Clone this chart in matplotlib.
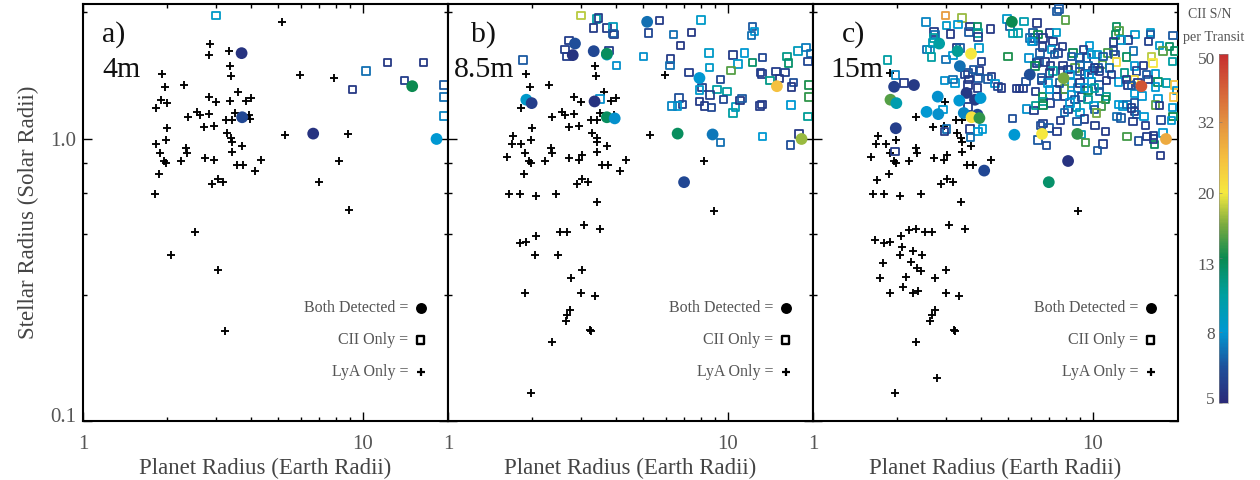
"""Detectability of CII and LyA per transit for 4m, 8.5m and 15m apertures."""

import matplotlib

matplotlib.use("Agg")
import matplotlib.pyplot as plt
import numpy as np
from matplotlib.cm import ScalarMappable
from matplotlib.colors import LinearSegmentedColormap, LogNorm
from matplotlib.ticker import FixedLocator, NullFormatter
from matplotlib.transforms import Affine2D

plt.rcParams["font.family"] = ["Liberation Serif", "DejaVu Serif"]

# all points are (log10 planet radius, log10 stellar radius[, CII S/N])
a_lya = [
    (.713, .414), (.455, .337), (.450, .296), (.521, .310), (.526, .257), (.530, .222), (.777, .226),
    (.899, .215), (.281, .228), (.293, .184), (.362, .190), (.555, .165), (.450, .149), (.474, .129),
    (.525, .134), (.581, .134), (.602, .144), (.279, .136), (.299, .125), (.261, .109), (.374, .078),
    (.408, .095), (.419, .084), (.451, .087), (.543, .090), (.513, .065), (.533, .065), (.593, .085),
    (.598, .071), (.299, .037), (.433, .043), (.470, .046), (.515, .020), (.530, .004), (.533, -.011),
    (.723, .014), (.948, .015), (.262, -.019), (.296, -.004), (.567, -.025), (.369, -.032), (.373, -.052),
    (.277, -.050), (.532, -.046), (.435, -.067), (.469, -.074), (.637, -.074), (.289, -.079), (.298, -.087),
    (.349, -.078), (.915, -.079), (.550, -.092), (.571, -.092), (.615, -.113), (.273, -.124), (.845, -.154),
    (.481, -.143), (.501, -.155), (.460, -.161), (.257, -.195), (.951, -.254), (.402, -.329), (.313, -.413),
    (.481, -.466), (.507, -.680),
]
a_cii = [
    (.475, .437, 8.5), (.963, .174, 5.5), (1.011, .240, 7), (1.088, .270, 5.5), (1.150, .207, 5.7),
    (1.218, .270, 5.5), (1.290, .190, 6.5), (1.290, .148, 7), (1.290, .080, 7.5),
]
a_both = [
    (.567, .303, 5.3), (.569, .076, 6), (.823, .018, 5.3), (1.177, .186, 13), (1.264, -.001, 8),
]

b_lya = [
    (.526, .257), (.530, .222), (.776, .226), (.279, .228), (.293, .184), (.362, .190), (.556, .165),
    (.450, .149), (.474, .129), (.581, .134), (.602, .144), (.261, .109), (.373, .078), (.408, .095),
    (.419, .084), (.451, .087), (.543, .090), (.513, .065), (.533, .065), (.593, .085), (.299, .037),
    (.433, .043), (.470, .046), (.515, .020), (.531, .004), (.533, -.011), (.723, .014), (.233, .008),
    (.229, -.018), (.262, -.019), (.296, -.004), (.567, -.025), (.369, -.032), (.373, -.052), (.276, -.050),
    (.532, -.046), (.432, -.067), (.480, -.057), (.469, -.074), (.637, -.074), (.210, -.064), (.289, -.079),
    (.298, -.087), (.348, -.078), (.915, -.079), (.549, -.092), (.571, -.092), (.615, -.113), (.273, -.124),
    (.480, -.143), (.501, -.155), (.460, -.161), (.217, -.196), (.256, -.196), (.314, -.202), (.387, -.196),
    (.531, -.223), (.950, -.256), (.488, -.306), (.545, -.320), (.400, -.329), (.426, -.329), (.315, -.343),
    (.256, -.368), (.279, -.365), (.312, -.411), (.393, -.411), (.479, -.465), (.438, -.494), (.276, -.548),
    (.477, -.545), (.524, -.558), (.436, -.608), (.427, -.624), (.421, -.647), (.507, -.678), (.510, -.682),
    (.371, -.721), (.295, -.902),
]
b_cii = [
    (.475, .437, 18), (.531, .424, 10), (.539, .428, 5.7), (.521, .392, 5.6), (.568, .392, 5.6),
    (.590, .396, 9), (.593, .369, 5.5), (.590, .372, 6.5), (.757, .418, 5.6), (.904, .420, 8.5),
    (.717, .374, 6), (.806, .370, 7), (.871, .376, 5.5), (.832, .330, 5.5), (1.089, .397, 6.5),
    (1.095, .379, 8), (1.085, .366, 7), (.432, .348, 5.7), (.419, .316, 5.7), (.425, .292, 5.7),
    (.269, .279, 6.5), (.575, .313, 5.7), (.602, .260, 7.8), (.699, .292, 7.8), (.796, .283, 5.6),
    (.793, .259, 7), (.933, .303, 8.5), (.935, .252, 8.5), (1.019, .296, 5.6), (1.060, .303, 8),
    (1.037, .264, 8.3), (1.088, .270, 12), (1.011, .241, 15), (1.124, .288, 6), (1.117, .235, 5.7),
    (1.123, .230, 5.7), (.862, .234, 5.7), (.974, .210, 6), (1.173, .238, 5.7), (1.205, .235, 5.8),
    (1.186, .213, 5.5), (1.151, .207, 11), (1.212, .291, 11), (1.218, .268, 12), (1.251, .310, 9),
    (1.280, .323, 7.3), (1.296, .301, 7), (1.287, .273, 6), (1.235, .199, 6.3), (1.229, .183, 5.5),
    (1.290, .190, 13.5), (1.290, .148, 14), (1.287, .079, 10.5), (1.226, .119, 8), (1.115, .115, 5.6),
    (1.123, .122, 5.6), (1.019, .091, 10), (1.027, .112, 9), (1.044, .135, 5.5), (1.051, .142, 6.5),
    (.998, .168, 10), (.962, .174, 10), (.985, .138, 6), (.937, .154, 5.8), (.908, .182, 5.8),
    (.900, .173, 8.3), (.900, .131, 5.6), (.917, .116, 5.6), (.942, .111, 6), (.826, .144, 6.3),
    (.839, .121, 6), (.821, .115, 8), (.801, .115, 7.5), (.543, .141, 7.8), (1.125, .007, 8),
    (.975, -.013, 7), (1.255, .017, 5.5), (1.225, -.022, 6.3),
]
b_both = [
    (.712, .414, 7), (.454, .337, 6.3), (.446, .296, 5.3), (.521, .310, 6), (.568, .298, 9),
    (.568, .301, 12.5), (.280, .138, 8.3), (.299, .126, 5.7), (.524, .132, 5.3), (.568, .076, 12.5),
    (.596, .072, 7.8), (.899, .215, 8), (.821, .018, 12.5), (.946, .015, 7.2), (1.176, .186, 25),
    (1.264, -.001, 17), (.844, -.154, 6),
]

c_lya = [
    (.275, .231), (.471, .129), (.370, .078), (.510, .065), (.533, .065), (.430, .043), (.468, .046),
    (.515, .020), (.529, .004), (.533, -.011), (.233, .008), (.226, -.018), (.260, -.019), (.295, -.004),
    (.565, -.025), (.369, -.032), (.373, -.052), (.275, -.050), (.531, -.046), (.432, -.067), (.480, -.057),
    (.469, -.074), (.635, -.074), (.208, -.064), (.289, -.079), (.296, -.087), (.345, -.078), (.549, -.092),
    (.571, -.092), (.271, -.124), (.230, -.146), (.480, -.143), (.501, -.155), (.457, -.161), (.214, -.196),
    (.254, -.196), (.311, -.202), (.386, -.196), (.529, -.223), (.949, -.256), (.486, -.306), (.543, -.320),
    (.342, -.324), (.368, -.319), (.400, -.329), (.424, -.329), (.314, -.343), (.221, -.358), (.254, -.368),
    (.276, -.365), (.318, -.385), (.358, -.398), (.390, -.411), (.310, -.411), (.250, -.441), (.349, -.437),
    (.373, -.457), (.387, -.470), (.476, -.465), (.240, -.494), (.333, -.489), (.436, -.494), (.323, -.527),
    (.376, -.538), (.358, -.547), (.475, -.545), (.274, -.548), (.521, -.558), (.435, -.608), (.427, -.624),
    (.420, -.647), (.505, -.678), (.508, -.682), (.369, -.721), (.442, -.848), (.293, -.902),
]
c_cii = [
    (.267, .279, 10), (.295, .225, 7.5), (.325, .197, 5.6), (.473, .437, 30), (.532, .427, 17),
    (.404, .413, 7.5), (.477, .401, 8.5), (.433, .378, 5.6), (.436, .369, 7), (.430, .357, 10),
    (.427, .339, 9), (.408, .316, 7), (.418, .316, 9), (.424, .290, 10), (.475, .280, 7),
    (.501, .294, 8), (.519, .404, 8), (.492, .371, 5.5), (.561, .398, 5.5), (.588, .398, 12.5),
    (.558, .378, 6.5), (.590, .375, 10.5), (.590, .361, 5.8), (.635, .389, 5.5), (.594, .322, 8.3),
    (.602, .274, 5.8), (.596, .239, 5.6), (.590, .215, 6.5), (.638, .221, 5.6), (.626, .212, 6.5),
    (.650, .195, 8), (.662, .184, 6), (.471, .207, 7.8), (.507, .198, 8), (.501, .209, 7),
    (.555, .233, 6.3), (.558, .209, 5.6), (.555, .191, 5.5), (.588, .180, 5.6), (.465, .103, 8),
    (.555, .112, 5.6), (.477, .034, 7), (.471, .026, 5.6), (.561, .034, 5.6), (.590, .026, 8),
    (.606, .034, 8), (.564, .005, 7), (.293, -.046, 5.6), (.513, .322, 5.5), (.525, .322, 6.5),
    (.873, .450, 6.5), (.880, .459, 6.5), (.902, .420, 15), (.694, .424, 8.3), (.754, .416, 9.5),
    (.801, .410, 5.5), (.704, .398, 6.5), (.715, .372, 9.5), (.733, .375, 10), (1.085, .398, 12.5),
    (1.094, .381, 15), (1.082, .368, 12.5), (1.151, .369, 8.3), (1.206, .377, 8.3), (1.206, .370, 6.5),
    (1.287, .365, 6.5), (.787, .375, 6.5), (.775, .357, 7), (.793, .357, 6.5), (.787, .345, 7),
    (.805, .369, 13), (.846, .375, 5.6), (.870, .377, 8.5), (.823, .357, 5.6), (.858, .345, 5.6),
    (.820, .324, 5.6), (.892, .327, 5.6), (.852, .316, 8.3), (.876, .304, 5.8), (.864, .298, 6.5),
    (1.127, .349, 5.8), (1.102, .349, 8.3), (1.075, .342, 5.6), (1.199, .345, 5.8), (1.239, .330, 8.3),
    (1.275, .327, 12.5), (1.251, .310, 15), (1.293, .310, 12.5), (.989, .330, 8), (.968, .316, 5.7),
    (1.146, .310, 7), (1.075, .310, 5.8), (1.055, .304, 14.5), (1.079, .298, 6.3), (.698, .292, 13.5),
    (.773, .286, 7.8), (.799, .268, 5.6), (.808, .274, 6.5), (.829, .272, 5.6), (.793, .257, 13),
    (.849, .257, 5.6), (.894, .259, 5.6), (.930, .304, 13), (.924, .292, 6.5), (.954, .286, 7),
    (.977, .286, 5.8), (1.015, .298, 8.3), (.995, .298, 8), (1.120, .290, 12.5), (1.210, .292, 18),
    (1.215, .268, 20), (1.085, .271, 21), (1.285, .274, 10), (1.035, .262, 15), (.936, .251, 15),
    (1.019, .251, 6.5), (1.001, .242, 6.3), (1.061, .251, 7), (1.150, .257, 8), (1.182, .259, 5.6),
    (1.156, .239, 6), (1.114, .233, 11), (1.225, .230, 8), (.858, .239, 10), (.894, .239, 5.7),
    (.971, .230, 5.7), (.954, .262, 6.5), (.983, .257, 7), (.846, .233, 5.6), (.674, .180, 5.5),
    (.727, .177, 5.6), (.739, .177, 5.6), (.751, .177, 5.6), (.761, .203, 6.3), (.819, .206, 5.7),
    (.840, .197, 8), (.795, .168, 5.7), (.820, .150, 13), (.823, .132, 10.5), (.850, .126, 5.7),
    (.870, .150, 6.5), (.900, .150, 5.7), (.924, .197, 8), (.948, .180, 7), (.900, .176, 15),
    (.924, .156, 8), (.960, .147, 5.8), (.983, .138, 10.5), (.995, .203, 8), (1.023, .191, 6.5),
    (.983, .171, 13), (1.025, .168, 6.5), (1.049, .207, 5.5), (1.093, .200, 8), (1.126, .191, 5.6),
    (1.150, .209, 22), (1.162, .197, 5.6), (1.233, .200, 12.5), (1.225, .183, 8), (1.263, .197, 9.5),
    (1.293, .191, 25), (1.299, .171, 8), (1.289, .148, 25), (1.150, .160, 8), (1.176, .152, 8),
    (1.233, .142, 8), (1.225, .119, 15), (1.239, .117, 5.6), (1.285, .111, 8), (1.049, .150, 10.5),
    (1.046, .138, 13), (1.031, .115, 14.5), (1.094, .121, 8), (1.108, .115, 8), (1.123, .121, 7),
    (1.150, .126, 6.5), (1.005, .117, 8), (1.007, .103, 6.5), (.942, .112, 10), (.912, .103, 5.7),
    (.900, .093, 7), (.954, .093, 8), (1.013, .091, 16), (.763, .106, 7.8), (.790, .100, 5.7),
    (.796, .117, 10.5), (.823, .117, 13), (.713, .072, 6.3), (.971, .070, 5.7), (.944, .061, 6.5),
    (.885, .064, 5.7), (1.087, .079, 7), (1.102, .073, 6.5), (1.150, .097, 5.7), (1.156, .085, 7),
    (1.183, .079, 8), (1.144, .061, 5.7), (1.245, .066, 6), (1.287, .079, 13), (1.281, .065, 8),
    (.823, .053, 5.8), (.813, .046, 6.3), (.844, .038, 6.5), (.873, .025, 5.7), (1.008, .047, 5.6),
    (1.046, .025, 5.6), (1.189, .046, 5.7), (1.123, .007, 14.5), (.960, .014, 9.5), (.805, -.004, 6.5),
    (.835, -.024, 6.3), (.974, -.013, 14.5), (1.037, -.018, 5.7), (1.017, -.041, 6.5), (1.164, -.008, 6.3),
    (1.194, .007, 5.7), (1.218, .011, 5.6), (1.251, .020, 8), (1.221, -.021, 12.5), (1.242, -.060, 5.6),
    (1.218, -.001, 5.6),
    # the crowded middle of the cloud, overlaps are hard to separate here
    (.912, .245, 5.7), (.918, .227, 8), (.954, .238, 6.5), (.987, .227, 8), (1.007, .251, 5.7),
    (.954, .197, 5.7), (.971, .180, 8), (1.007, .180, 10), (.882, .197, 6.5), (.870, .174, 5.7),
    (.846, .174, 8), (.936, .138, 6.5), (.918, .126, 8), (1.120, .209, 5.7), (1.138, .188, 6.5),
    (1.198, .209, 5.7), (1.192, .227, 6.5), (1.138, .109, 5.7), (.811, .304, 6.5), (.781, .345, 8),
    (1.037, .292, 6.5), (1.025, .239, 5.7), (.817, .215, 6.5), (1.067, .227, 5.7), (.543, .227, 5.7),
    (.573, .245, 6.5),
]
c_both = [
    (.451, .337, 10), (.517, .310, 10.5), (.565, .301, 20), (.525, .257, 7), (.361, .190, 5.5),
    (.290, .184, 5.7), (.446, .149, 7.8), (.549, .162, 5.5), (.579, .138, 5.5), (.523, .135, 8),
    (.599, .144, 8), (.277, .138, 15), (.298, .126, 9.5), (.406, .095, 8), (.448, .087, 7.8),
    (.539, .091, 7.5), (.588, .085, 6), (.567, .076, 21), (.595, .073, 14), (.296, .037, 5.7),
    (.612, -.113, 6), (.711, .414, 13), (.775, .227, 6.3), (.896, .214, 16), (1.174, .186, 42),
    (.720, .014, 8), (.819, .017, 20), (.945, .017, 14), (1.262, -.001, 28), (.912, -.079, 5.3),
    (.843, -.154, 12),
]

panel_labels = [("a)", "4m"), ("b)", "8.5m"), ("c)", "15m")]
cbar_ticks = [5, 8, 13, 20, 32, 50]

# colour scale of the S/N bar
cmap = LinearSegmentedColormap.from_list(
    "cii_sn",
    [(0.0, "#2a2a78"), (0.10, "#1f4f9a"), (0.204, "#0098d2"), (0.31, "#009f9f"), (0.415, "#0a8a50"),
     (0.51, "#7aaa40"), (0.602, "#f6e93f"), (0.70, "#f5c040"), (0.806, "#e39140"), (1.0, "#c62f30")],
)
norm = LogNorm(5, 50)

TEXT_GREY = "#555555"
W, H = 1260, 480


def draw_panel(ax, lya, cii, both, label, label_xs, show_y):
    x, y = np.array(lya).T
    ax.scatter(10**x, 10**y, marker="+", s=38, linewidths=1.35, color="black", zorder=2)

    x, y, sn = np.array(cii).T
    ax.scatter(10**x, 10**y, marker="s", s=29, linewidths=1.3, facecolors="none",
               edgecolors=cmap(norm(sn)), zorder=3)

    x, y, sn = np.array(both).T
    ax.scatter(10**x, 10**y, marker="o", s=72, linewidths=0, c=cmap(norm(sn)), zorder=4)

    ax.set_xscale("log")
    ax.set_yscale("log")
    ax.set_xlim(1, 20.1)
    ax.set_ylim(0.1, 3.0)

    ax.xaxis.set_major_locator(FixedLocator([1, 10]))
    ax.xaxis.set_major_formatter(plt.FuncFormatter(lambda v, p: f"{v:.0f}"))
    ax.xaxis.set_minor_locator(FixedLocator([2, 3, 4, 5, 6, 7, 8, 9]))
    ax.xaxis.set_minor_formatter(NullFormatter())
    ax.yaxis.set_major_locator(FixedLocator([0.1, 1.0]))
    ax.yaxis.set_major_formatter(plt.FuncFormatter(lambda v, p: f"{v:.1f}"))
    ax.yaxis.set_minor_locator(FixedLocator([0.28, 0.46, 0.64, 0.82, 2.8]))
    ax.yaxis.set_minor_formatter(NullFormatter())

    ax.tick_params(which="both", direction="in", top=True, right=True, width=1.0, color="black")
    ax.tick_params(which="major", length=6.5, labelsize=15, labelcolor=TEXT_GREY)
    ax.tick_params(which="minor", length=3)
    ax.tick_params(axis="x", which="major", pad=10)
    ax.tick_params(axis="y", which="major", pad=5, labelleft=show_y)
    for spine in ax.spines.values():
        spine.set_linewidth(1.5)

    ax.set_xlabel("Planet Radius (Earth Radii)", fontsize=16.5, color="#444444", labelpad=3)
    if show_y:
        ax.set_ylabel("Stellar Radius (Solar Radii)", fontsize=16.5, color="#444444", labelpad=8)
        lab = ax.get_yticklabels()[0]
        lab.set_transform(lab.get_transform() + Affine2D().translate(0, 6))

    ax.text(label_xs[0], 0.926, label[0], transform=ax.transAxes, ha="left", va="center",
            fontsize=21.5, color="#111111", zorder=5)
    ax.text(label_xs[1], 0.842, label[1], transform=ax.transAxes, ha="left", va="center",
            fontsize=21.5, color="#111111", zorder=5)

    keys = [("Both Detected =", 0.271), ("CII Only =", 0.194), ("LyA Only =", 0.118)]
    for text, yf in keys:
        ax.text(0.893, yf, text, transform=ax.transAxes, ha="right", va="center",
                fontsize=11.5, color=TEXT_GREY)
    ax.scatter([0.926], [keys[0][1]], marker="o", s=62, linewidths=0, color="black",
               transform=ax.transAxes, zorder=5)
    ax.scatter([0.926], [keys[1][1]], marker="s", s=30, linewidths=1.7, facecolors="none",
               edgecolors="black", transform=ax.transAxes, zorder=5)
    ax.scatter([0.926], [keys[2][1]], marker="+", s=36, linewidths=1.6, color="black",
               transform=ax.transAxes, zorder=5)


fig = plt.figure(figsize=(W / 100, H / 100), dpi=100)
lefts = [83, 448, 813]
panels = [(a_lya, a_cii, a_both), (b_lya, b_cii, b_both), (c_lya, c_cii, c_both)]
label_xs = [(0.052, 0.052), (0.063, 0.016), (0.079, 0.047)]
for i, (left, data) in enumerate(zip(lefts, panels)):
    ax = fig.add_axes([left / W, (H - 421) / H, 364.5 / W, 417 / H])
    draw_panel(ax, *data, panel_labels[i], label_xs[i], i == 0)

cax = fig.add_axes([1219 / W, (H - 403) / H, 9 / W, 349 / H])
cb = fig.colorbar(ScalarMappable(norm=norm, cmap=cmap), cax=cax)
cb.outline.set_linewidth(0.4)
cb.outline.set_edgecolor("#888888")
cax.yaxis.set_ticks_position("left")
cax.yaxis.set_minor_locator(FixedLocator([]))
cb.set_ticks(cbar_ticks)
cb.set_ticklabels([str(t) for t in cbar_ticks])
cax.tick_params(axis="y", which="major", direction="in", length=2, width=0.4, color="#777777",
                labelsize=12.5, labelcolor=TEXT_GREY, pad=3)
# the labels on the bar sit evenly spaced, nudged a few pixels off their ticks
label_nudge = {5: 5, 8: -1, 13: -6, 50: -4}
for tick, lab in zip(cbar_ticks, cax.get_yticklabels()):
    lab.set_transform(lab.get_transform() + Affine2D().translate(0, label_nudge.get(tick, 0)))

fig.text(1210 / W, 1 - 15 / H, "CII S/N", ha="center", va="center", fontsize=10, color=TEXT_GREY)
fig.text(1214 / W, 1 - 37 / H, "per Transit", ha="center", va="center", fontsize=10.3, color=TEXT_GREY)

fig.savefig("out.png", dpi=100)
plt.close(fig)
